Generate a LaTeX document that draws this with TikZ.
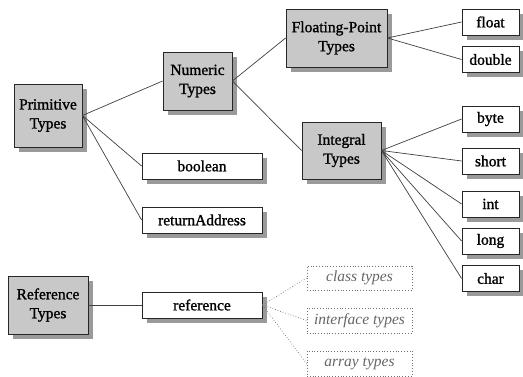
\documentclass[tikz,border=0pt]{standalone}
\usepackage{fontspec}
\setmainfont{Liberation Serif}
\newfontfamily\heavyserif[FakeBold=1.2]{Liberation Serif}
\usetikzlibrary{shadows}
\definecolor{boxgray}{HTML}{C8C8C8}
\definecolor{shadowgray}{HTML}{9A9A9A}
\definecolor{linegray}{HTML}{404040}
\definecolor{dotgray}{HTML}{707070}
\begin{document}
\begin{tikzpicture}[x=1pt,y=-1pt,
  base/.style={draw=black!85, line width=0.8pt, inner sep=0pt, align=center,
    font=\heavyserif\fontsize{15.5}{19}\selectfont,
    drop shadow={shadow xshift=5pt, shadow yshift=-5pt, fill=shadowgray, opacity=1}},
  graybox/.style={base, fill=boxgray},
  whitebox/.style={base, fill=white},
  dotbox/.style={draw=dotgray, dotted, line width=0.8pt, inner sep=0pt, fill=white,
    text=black!60, font=\fontsize{15.5}{17}\selectfont\itshape},
  conn/.style={draw=linegray, line width=0.7pt},
  dconn/.style={draw=dotgray, dotted, line width=0.7pt}]
\useasboundingbox (0,0) rectangle (523,377);
\fill[white] (0,0) rectangle (523,377);
% nodes
\node[graybox, minimum width=68pt, minimum height=63pt] (prim) at (48,115.5) {Primitive\\Types};
\node[graybox, minimum width=69pt, minimum height=58pt] (num) at (197.5,81) {Numeric\\Types};
\node[whitebox, minimum width=120pt, minimum height=26pt] (bool) at (202,166) {boolean};
\node[whitebox, minimum width=120pt, minimum height=26pt] (ret) at (202,220) {returnAddress};
\node[graybox, minimum width=80pt, minimum height=58pt] (reft) at (48,305) {Reference\\Types};
\node[whitebox, minimum width=120pt, minimum height=26pt] (refn) at (202,305) {reference};
\node[graybox, minimum width=101pt, minimum height=58pt] (fp) at (336.5,38) {Floating-Point\\Types};
\node[whitebox, minimum width=57pt, minimum height=26pt] (flt) at (490.5,22) {float};
\node[whitebox, minimum width=57pt, minimum height=26pt] (dbl) at (490.5,59.5) {double};
\node[graybox, minimum width=79pt, minimum height=57pt] (intg) at (341.5,150.5) {Integral\\Types};
\node[whitebox, minimum width=57pt, minimum height=26pt] (byte) at (490.5,119) {byte};
\node[whitebox, minimum width=57pt, minimum height=26pt] (short) at (490.5,161) {short};
\node[whitebox, minimum width=57pt, minimum height=26pt] (int) at (490.5,204) {int};
\node[whitebox, minimum width=57pt, minimum height=26pt] (long) at (490.5,241) {long};
\node[whitebox, minimum width=57pt, minimum height=26pt] (char) at (490.5,278.5) {char};
\node[dotbox, minimum width=105pt, minimum height=24pt] (cls) at (359.5,278) {class types};
\node[dotbox, minimum width=105pt, minimum height=25pt] (ifc) at (359.5,320.5) {interface types};
\node[dotbox, minimum width=105pt, minimum height=25pt] (arr) at (359.5,363.5) {array types};
% connectors
\draw[conn] (prim.east) -- (num.west);
\draw[conn] (prim.east) -- (bool.west);
\draw[conn] (prim.east) -- (ret.west);
\draw[conn] (num.east) -- (fp.west);
\draw[conn] (num.east) -- (intg.west);
\draw[conn] (fp.east) -- (flt.west);
\draw[conn] (fp.east) -- (dbl.west);
\draw[conn] (intg.east) -- (byte.west);
\draw[conn] (intg.east) -- (short.west);
\draw[conn] (intg.east) -- (int.west);
\draw[conn] (intg.east) -- (long.west);
\draw[conn] (intg.east) -- (char.west);
\draw[conn] (reft.east) -- (refn.west);
\draw[dconn] (refn.east) -- (cls.west);
\draw[dconn] (refn.east) -- (ifc.west);
\draw[dconn] (refn.east) -- (arr.west);
\end{tikzpicture}
\end{document}
